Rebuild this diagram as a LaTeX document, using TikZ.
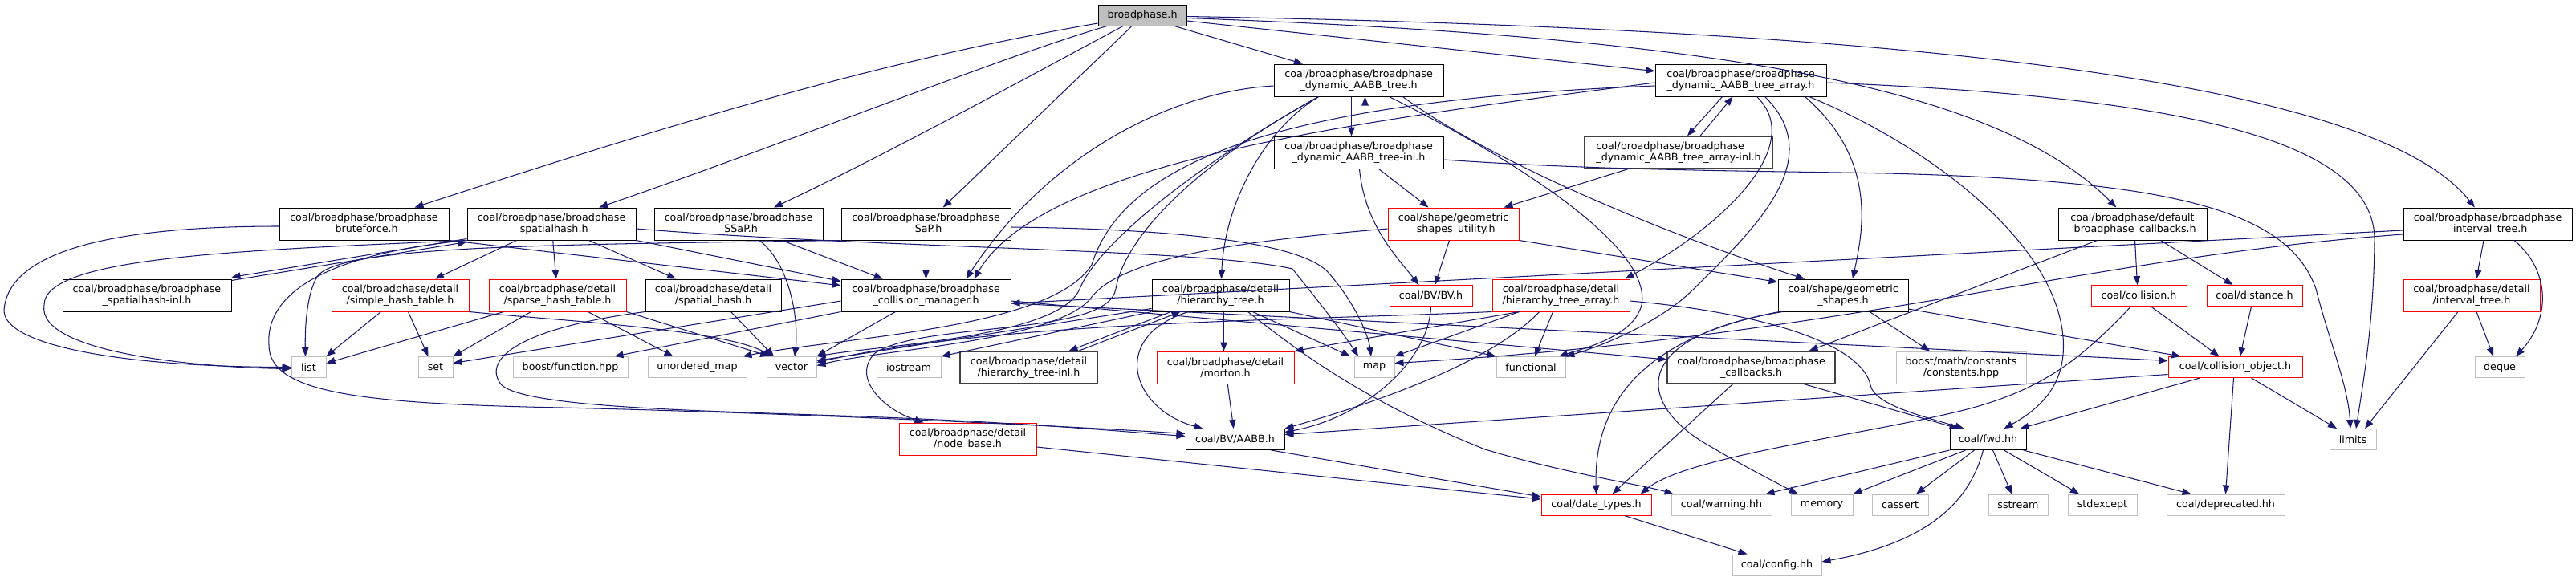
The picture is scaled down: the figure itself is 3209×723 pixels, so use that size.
\documentclass[tikz,border=0pt]{standalone}
\usepackage{fontspec}
\setmainfont{DejaVu Sans}
\usetikzlibrary{arrows.meta}
\newcommand\dfont{\fontsize{12.7}{14}\selectfont}
\definecolor{edgec}{HTML}{191970}
\definecolor{extg}{HTML}{BFBFBF}
\definecolor{dkg}{HTML}{404040}
\definecolor{bpfill}{HTML}{BFBFBF}
\definecolor{trc}{HTML}{FF0000}
\begin{document}
\begin{tikzpicture}[x=1pt,y=-1pt,
  box/.style={draw=black,line width=1pt,fill=white,inner sep=0pt,align=center,font=\dfont,minimum height=40pt},
  one/.style={minimum height=26pt},
  wd/.style={minimum width=#1pt},
  trunc/.style={draw=trc},
  ext/.style={draw=extg},
  dk/.style={draw=dkg,line width=1.4pt},
  conn/.style={draw=edgec,line width=1.05pt,-{Triangle[length=11pt,width=8.5pt]}}]
\fill[white] (0,0) rectangle (3209,723);
\useasboundingbox (0,0) rectangle (3209,723);
% ---------- nodes ----------
\node[box,one,wd=110,fill=bpfill] (bp) at (1423,19) {broadphase.h};
\node[box,wd=211] (brute) at (453.5,279) {coal/broadphase/broadphase\\\_bruteforce.h};
\node[box,wd=210] (spatial) at (687,279) {coal/broadphase/broadphase\\\_spatialhash.h};
\node[box,wd=210] (ssap) at (920,279) {coal/broadphase/broadphase\\\_SSaP.h};
\node[box,wd=211] (sap) at (1153.5,279) {coal/broadphase/broadphase\\\_SaP.h};
\node[box,wd=211] (dyn) at (1692.5,100) {coal/broadphase/broadphase\\\_dynamic\_AABB\_tree.h};
\node[box,wd=213] (dyna) at (2168.5,100) {coal/broadphase/broadphase\\\_dynamic\_AABB\_tree\_array.h};
\node[box,wd=211] (dyninl) at (1692.5,190) {coal/broadphase/broadphase\\\_dynamic\_AABB\_tree-inl.h};
\node[box,dk,wd=234,align=left] (dynainl) at (2091,190) {coal/broadphase/broadphase\\\_dynamic\_AABB\_tree\_array-inl.h};
\node[box,trunc,wd=163] (gsu) at (1810.5,279) {coal/shape/geometric\\\_shapes\_utility.h};
\node[box,wd=185] (defcb) at (2656.5,279) {coal/broadphase/default\\\_broadphase\_callbacks.h};
\node[box,wd=210] (interval) at (3099,279) {coal/broadphase/broadphase\\\_interval\_tree.h};
\node[box,wd=210] (sphinl) at (183,368) {coal/broadphase/broadphase\\\_spatialhash-inl.h};
\node[box,trunc,wd=171] (simple) at (498.5,368) {coal/broadphase/detail\\/simple\_hash\_table.h};
\node[box,trunc,wd=171] (sparse) at (694.5,368) {coal/broadphase/detail\\/sparse\_hash\_table.h};
\node[box,wd=169] (sph) at (888.5,368) {coal/broadphase/detail\\/spatial\_hash.h};
\node[box,wd=211] (cm) at (1153.5,368) {coal/broadphase/broadphase\\\_collision\_manager.h};
\node[box,wd=171] (ht) at (1520.5,368) {coal/broadphase/detail\\/hierarchy\_tree.h};
\node[box,one,trunc,wd=103] (bvh) at (1782.5,368.5) {coal/BV/BV.h};
\node[box,trunc,wd=171] (hta) at (1944.5,368) {coal/broadphase/detail\\/hierarchy\_tree\_array.h};
\node[box,wd=162] (gs) at (2296,368) {coal/shape/geometric\\\_shapes.h};
\node[box,one,trunc,wd=119] (coll) at (2664.5,368.5) {coal/collision.h};
\node[box,one,trunc,wd=119] (dist) at (2808.5,368.5) {coal/distance.h};
\node[box,trunc,wd=170] (itd) at (3079,368) {coal/broadphase/detail\\/interval\_tree.h};
\node[box,one,ext,wd=43] (list) at (384.5,457.5) {list};
\node[box,one,ext,wd=43] (set) at (542.5,457.5) {set};
\node[box,one,ext,wd=143] (bfun) at (710.5,457.5) {boost/function.hpp};
\node[box,one,ext,wd=123] (umap) at (868.5,457.5) {unordered\_map};
\node[box,one,ext,wd=62] (vector) at (986,457.5) {vector};
\node[box,one,ext,wd=80] (iostream) at (1132,457.5) {iostream};
\node[box,dk,wd=171] (htinl) at (1281.5,458) {coal/broadphase/detail\\/hierarchy\_tree-inl.h};
\node[box,trunc,wd=171] (morton) at (1526.5,458) {coal/broadphase/detail\\/morton.h};
\node[box,one,ext,wd=50] (map) at (1712,457.5) {map};
\node[box,one,ext,wd=86] (functional) at (1907,457.5) {functional};
\node[box,dk,wd=209] (bpcb) at (2181.5,458) {coal/broadphase/broadphase\\\_callbacks.h};
\node[box,ext,wd=162] (bmc) at (2443,458) {boost/math/constants\\/constants.hpp};
\node[box,one,trunc,wd=167] (cobj) at (2784.5,457.5) {coal/collision\_object.h};
\node[box,one,ext,wd=62] (deque) at (3114,457.5) {deque};
\node[box,trunc,wd=171] (nodebase) at (1205.5,547) {coal/broadphase/detail\\/node\_base.h};
\node[box,one,wd=123] (aabb) at (1538.5,547.5) {coal/BV/AABB.h};
\node[box,one,wd=95] (fwd) at (2476.5,547.5) {coal/fwd.hh};
\node[box,one,ext,wd=58] (limits) at (2931,547.5) {limits};
\node[box,one,trunc,wd=137] (dt) at (1988.5,629) {coal/data\_types.h};
\node[box,one,ext,wd=125] (warning) at (2144.5,629) {coal/warning.hh};
\node[box,one,ext,wd=77] (memory) at (2269.5,629) {memory};
\node[box,one,ext,wd=70] (cassert) at (2367,629) {cassert};
\node[box,one,ext,wd=74] (sstream) at (2514,629) {sstream};
\node[box,one,ext,wd=86] (stdexcept) at (2619,629) {stdexcept};
\node[box,one,ext,wd=147] (deprecated) at (2772.5,629) {coal/deprecated.hh};
\node[box,one,ext,wd=111] (config) at (2213.5,704) {coal/config.hh};
% ---------- edges ----------
% broadphase.h
\draw[conn] ([yshift=-10pt]bp.west) .. controls (1100,75) and (850,150) .. (brute);
\draw[conn] ([xshift=-44pt]bp.south) .. controls (1250,70) and (1000,171) .. (spatial);
\draw[conn] ([xshift=-24pt]bp.south) .. controls (1310,80) and (1100,195) .. (ssap);
\draw[conn] ([xshift=-13pt]bp.south) -- (sap);
\draw[conn] ([xshift=40pt]bp.south) -- (dyn);
\draw[conn] ([yshift=-7pt]bp.east) -- (dyna);
\draw[conn] ([yshift=-3.5pt]bp.east) .. controls (2100,45) and (2480,100) .. (defcb);
\draw[conn] ([yshift=-1.5pt]bp.east) .. controls (2300,35) and (2950,90) .. (interval);
% bruteforce
\draw[conn] ([yshift=-3pt]brute.west) .. controls (150,282) and (10,310) .. (5,387) .. controls (5,430) and (150,457) .. (list.west);
\draw[conn] (brute.south east) -- (cm);
% spatialhash
\draw[conn] ([yshift=2pt]spatial.south west) -- ([yshift=2pt]sphinl.north east);
\draw[conn] ([yshift=-2pt]sphinl.north east) -- ([yshift=-2pt]spatial.south west);
\draw[conn] (spatial.south west) .. controls (300,312) and (55,320) .. (55,380) .. controls (45,440) and (250,458) .. ([yshift=-2pt]list.west);
\draw[conn] (spatial) -- (simple);
\draw[conn] (spatial) -- (sparse);
\draw[conn] (spatial) -- (sph);
\draw[conn] (spatial.south east) -- ([yshift=-3pt]cm.north west);
\draw[conn] ([yshift=-6pt]spatial.east) .. controls (1100,310) and (1500,310) .. (1610,335) .. controls (1630,360) and (1670,410) .. ([xshift=-20pt]map.north);
\draw[conn] (spatial.south west) .. controls (420,315) and (330,360) .. (335,430) .. controls (335,490) and (450,503) .. (700,508) .. controls (1000,515) and (1350,532) .. ([yshift=7pt]aabb.west);
% SSaP
\draw[conn] (ssap) -- (cm);
\draw[conn] ([xshift=26pt]ssap.south) .. controls (985,330) and (995,400) .. ([xshift=4pt]vector.north);
% SaP
\draw[conn] (sap) -- (cm);
\draw[conn] ([yshift=-4pt]sap.east) .. controls (1450,285) and (1620,300) .. (1655,340) .. controls (1690,380) and (1705,420) .. ([xshift=-4pt]map.north);
\draw[conn] (sap.south west) .. controls (700,305) and (420,305) .. (395,345) .. controls (380,370) and (380,420) .. ([xshift=-4pt]list.north);
% dynamic AABB tree
\draw[conn] ([xshift=-9pt]dyn.south) -- ([xshift=-9pt]dyninl.north);
\draw[conn] ([xshift=8pt]dyninl.north) -- ([xshift=8pt]dyn.south);
\draw[conn] ([xshift=-50pt]dyn.south) .. controls (1570,165) and (1525,260) .. ([xshift=1pt]ht.north);
\draw[conn] ([yshift=-7pt]dyn.west) .. controls (1450,115) and (1300,200) .. ([xshift=50pt]cm.north);
\draw[conn] ([xshift=-50pt]dyn.south) .. controls (1500,200) and (1370,300) .. (1345,360) .. controls (1320,420) and (1100,430) .. (vector.north east);
\draw[conn] ([xshift=-50pt]dyn.south) .. controls (1480,210) and (1400,300) .. (1390,360) .. controls (1380,420) and (1150,400) .. (1090,440) .. controls (1060,470) and (1100,510) .. ([xshift=-55pt]nodebase.north);
\draw[conn] ([xshift=38pt]dyn.south) .. controls (1850,180) and (2060,300) .. (2045,380) .. controls (2035,420) and (1970,435) .. ([xshift=35pt]functional.north);
\draw[conn] ([xshift=55pt]dyn.south) .. controls (1870,210) and (2100,300) .. ([xshift=-48pt]gs.north);
% dynamic AABB tree inl
\draw[conn] ([xshift=1pt]dyninl.south) .. controls (1700,280) and (1740,320) .. ([xshift=-15pt]bvh.north);
\draw[conn] ([xshift=25pt]dyninl.south) -- ([xshift=-31pt]gsu.north);
\draw[conn] ([yshift=-9pt]dyninl.east) .. controls (2000,213) and (2200,213) .. (2350,216) .. controls (2700,225) and (2850,260) .. (2885,360) .. controls (2900,420) and (2925,480) .. ([xshift=-3pt]limits.north);
% dynamic AABB tree array
\draw[conn] ([xshift=-23pt]dyna.south) -- ([xshift=11pt]dynainl.north);
\draw[conn] ([xshift=27pt]dynainl.north) -- ([xshift=-10pt]dyna.south);
\draw[conn] ([xshift=-63pt]dynainl.south) -- ([xshift=63pt]gsu.north);
\draw[conn] ([xshift=20pt]dyna.south) .. controls (2250,180) and (2150,280) .. ([xshift=80pt]hta.north);
\draw[conn] ([xshift=80pt]dyna.south) .. controls (2340,200) and (2320,290) .. ([xshift=12pt]gs.north);
\draw[conn] ([xshift=30pt]dyna.south) .. controls (2280,200) and (2180,290) .. (2110,360) .. controls (2070,400) and (2000,430) .. (functional.north east);
\draw[conn] ([xshift=85pt]dyna.south) .. controls (2400,180) and (2560,300) .. (2570,420) .. controls (2575,480) and (2540,510) .. ([xshift=20pt]fwd.north);
\draw[conn] ([yshift=-3pt]dyna.west) .. controls (1700,150) and (1300,200) .. ([xshift=60pt]cm.north);
\draw[conn] ([yshift=-7pt]dyna.west) .. controls (1600,125) and (1400,200) .. (1360,330) .. controls (1310,410) and (1050,420) .. ([xshift=-5pt]umap.north east);
\draw[conn] ([yshift=-3pt]dyna.east) .. controls (2700,120) and (2960,170) .. (2958,300) .. controls (2957,400) and (2945,470) .. ([xshift=4pt]limits.north);
% default callbacks
\draw[conn] ([xshift=3pt]defcb.south) -- ([xshift=-2pt]coll.north);
\draw[conn] ([xshift=35pt]defcb.south) -- ([xshift=-27pt]dist.north);
\draw[conn] ([xshift=-44pt]defcb.south) -- ([xshift=72pt]bpcb.north);
% interval tree
\draw[conn] ([yshift=-8pt]interval.west) -- ([yshift=-10pt]cm.east);
\draw[conn] ([yshift=-13pt]interval.west) .. controls (2600,320) and (2300,420) .. ([yshift=5pt]map.east);
\draw[conn] ([xshift=-5pt]interval.south) -- ([xshift=6pt]itd.north);
\draw[conn] ([xshift=33pt]interval.south) .. controls (3180,340) and (3175,400) .. ([xshift=20pt]deque.north);
\draw[conn] ([xshift=6pt]itd.south) -- ([xshift=-8pt]deque.north);
\draw[conn] ([xshift=-17pt]itd.south) -- ([xshift=15pt]limits.north);
% geometric shapes utility
\draw[conn] ([xshift=-5pt]gsu.south) -- ([xshift=5pt]bvh.north);
\draw[conn] (gsu.south east) -- ([yshift=-4pt]gs.north west);
\draw[conn] ([yshift=-6pt]gsu.west) .. controls (1550,300) and (1400,320) .. (1360,370) .. controls (1320,425) and (1100,435) .. ([yshift=2pt]vector.east);
% geometric shapes
\draw[conn] ([xshift=33pt]gs.south) -- ([xshift=-39pt]bmc.north);
\draw[conn] ([yshift=-17pt]gs.east) -- ([xshift=16pt]cobj.north west);
\draw[conn] ([xshift=2pt]gs.south west) .. controls (2050,420) and (1985,500) .. (dt.north);
\draw[conn] ([xshift=6pt]gs.south west) .. controls (2030,420) and (2040,500) .. (2120,550) .. controls (2170,580) and (2210,600) .. ([xshift=-30pt]memory.north);
% broadphase callbacks
\draw[conn] ([xshift=-23pt]bpcb.south) -- ([xshift=20pt]dt.north);
\draw[conn] ([xshift=66pt]bpcb.south) -- ([xshift=-37pt]fwd.north);
% collision manager
\draw[conn] (cm.south west) -- ([xshift=55pt]bfun.north);
\draw[conn] ([yshift=-7pt]cm.west) -- ([yshift=5pt]set.east);
\draw[conn] ([xshift=-38pt]cm.south) -- (vector.north east);
\draw[conn] ([yshift=-10pt]cm.east) -- ([yshift=8pt]cobj.west);
\draw[conn] ([yshift=-7pt]cm.east) -- ([yshift=10pt]bpcb.west);
% hierarchy tree
\draw[conn] ([xshift=-62pt]ht.south) -- ([xshift=50pt]htinl.north);
\draw[conn] ([xshift=62pt]htinl.north) -- ([xshift=-50pt]ht.south);
\draw[conn] ([xshift=4pt]ht.south) -- ([xshift=-2pt]morton.north);
\draw[conn] ([xshift=-40pt]ht.south) .. controls (1380,420) and (1410,510) .. ([xshift=-40pt]aabb.north);
\draw[conn] ([xshift=40pt]ht.south) -- ([xshift=-30pt]map.north);
\draw[conn] (ht.south east) -- (functional.north west);
\draw[conn] (ht.south west) -- (iostream.north east);
\draw[conn] ([yshift=4pt]ht.south west) -- ([yshift=8pt]vector.east);
\draw[conn] ([xshift=34pt]ht.south) .. controls (1620,440) and (1700,500) .. (1850,560) .. controls (1950,590) and (2050,605) .. ([xshift=-60pt]warning.north);
\draw[conn] (morton) -- (aabb);
% hierarchy tree array
\draw[conn] ([xshift=-52pt]hta.south) -- (morton.north east);
\draw[conn] ([xshift=-27pt]hta.south) .. controls (1860,450) and (1720,500) .. (aabb.north east);
\draw[conn] ([xshift=-52pt]hta.south) -- (map.north east);
\draw[conn] ([xshift=-10pt]hta.south) -- ([xshift=5pt]functional.north);
\draw[conn] (hta.south west) .. controls (1600,400) and (1250,400) .. ([yshift=6pt]vector.east);
\draw[conn] ([yshift=-7pt]hta.east) .. controls (2200,390) and (2320,430) .. (2330,480) .. controls (2335,505) and (2400,520) .. ([xshift=-30pt]fwd.north);
% BV.h
\draw[conn] (bvh.south) .. controls (1780,450) and (1700,520) .. ([yshift=9pt]aabb.east);
% collision object
\draw[conn] ([yshift=-9pt]cobj.west) -- ([yshift=6pt]aabb.east);
\draw[conn] ([xshift=-44pt]cobj.south) -- ([xshift=40pt]fwd.north);
\draw[conn] ([xshift=20pt]cobj.south) -- ([xshift=-20pt]limits.north);
\draw[conn] ([xshift=-2pt]cobj.south) -- (deprecated.north);
% collision / distance
\draw[conn] ([xshift=15pt]coll.south) -- ([xshift=-20pt]cobj.north);
\draw[conn] ([xshift=-10pt]coll.south) .. controls (2590,450) and (2540,490) .. (2430,515) .. controls (2300,545) and (2100,570) .. ([xshift=55pt]dt.north);
\draw[conn] ([xshift=-4pt]dist.south) -- ([xshift=6pt]cobj.north);
% fwd
\draw[conn] (fwd.south west) -- ([xshift=55pt]warning.north);
\draw[conn] ([xshift=-28pt]fwd.south) -- (memory.north east);
\draw[conn] ([xshift=-17pt]fwd.south) -- ([xshift=20pt]cassert.north);
\draw[conn] ([xshift=-6pt]fwd.south) .. controls (2450,640) and (2380,680) .. ([yshift=4pt]config.east);
\draw[conn] ([xshift=6pt]fwd.south) -- ([xshift=-8pt]sstream.north);
\draw[conn] ([xshift=20pt]fwd.south) -- ([xshift=-29pt]stdexcept.north);
\draw[conn] ([xshift=44pt]fwd.south) -- ([xshift=-43pt]deprecated.north);
% data types, node base, AABB
\draw[conn] ([xshift=35pt]dt.south) -- ([xshift=-37pt]config.north);
\draw[conn] ([yshift=-10pt]nodebase.east) -- ([yshift=7pt]dt.west);
\draw[conn] ([xshift=45pt]aabb.south) -- ([yshift=10pt]dt.west);
% spatial hash detail
\draw[conn] ([xshift=22pt]sph.south) -- ([xshift=-22pt]vector.north);
\draw[conn] (sph.south west) .. controls (640,410) and (600,450) .. (625,480) .. controls (660,510) and (900,512) .. (1100,520) .. controls (1300,528) and (1400,538) .. ([yshift=4pt]aabb.west);
% simple hash table
\draw[conn] ([xshift=-24pt]simple.south) -- (list.north east);
\draw[conn] ([xshift=10pt]simple.south) -- ([xshift=-9pt]set.north);
\draw[conn] (simple.south east) .. controls (700,400) and (900,410) .. ([xshift=-24pt]vector.north);
% sparse hash table
\draw[conn] ([xshift=-67pt]sparse.south) -- ([yshift=5pt]list.east);
\draw[conn] ([xshift=-33pt]sparse.south) -- (set.north east);
\draw[conn] ([xshift=38pt]sparse.south) -- ([xshift=-30pt]umap.north);
\draw[conn] (sparse.south east) -- ([xshift=-28pt]vector.north);
\end{tikzpicture}
\end{document}
